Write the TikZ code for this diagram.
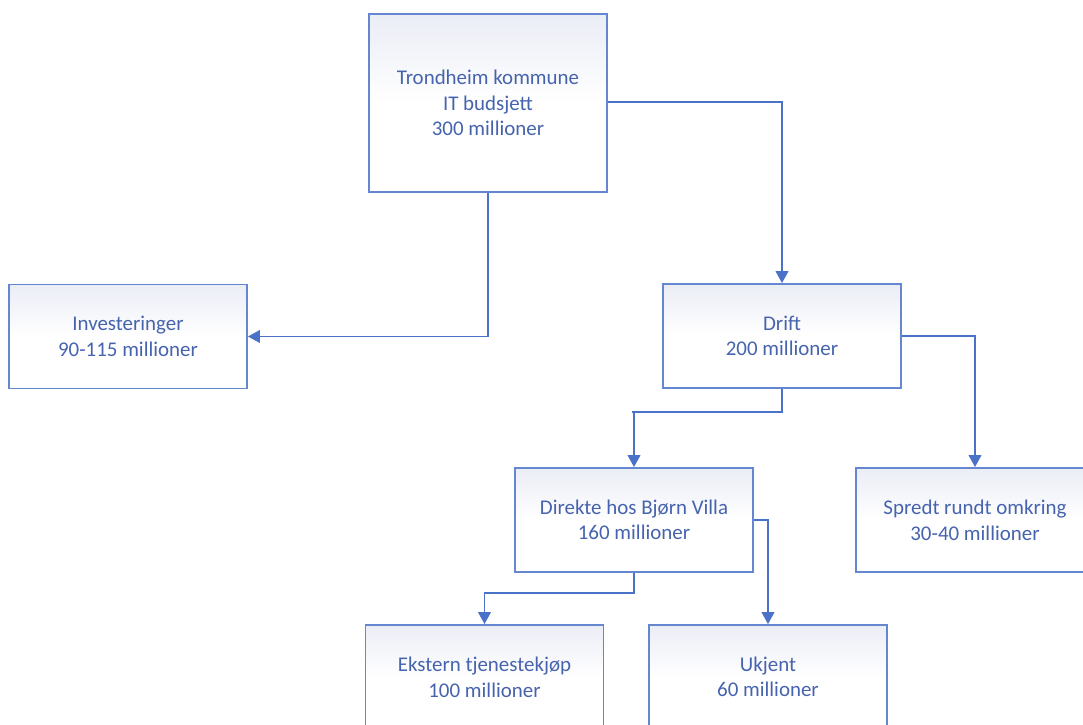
\documentclass[tikz,border=0pt]{standalone}
\usepackage{fontspec}
\setmainfont{Carlito}
\usetikzlibrary{arrows.meta}
\definecolor{lineblue}{HTML}{4A72C8}
\definecolor{textblue}{HTML}{4663AE}
\definecolor{boxshade}{HTML}{EBEDF6}
\tikzset{
  box/.style={draw=lineblue!85, line width=1.4pt, minimum width=178.5pt, minimum height=78pt,
    shade, shading angle=135, top color=boxshade, bottom color=white, middle color=white,
    align=center, text=textblue, font=\fontsize{15.7}{19.2}\selectfont, inner sep=0pt},
  conn/.style={draw=lineblue, line width=1.4pt, -{Triangle[length=9pt,width=9.5pt]}}
}
\begin{document}
\begin{tikzpicture}[x=0.75pt,y=-0.75pt]
\useasboundingbox (0,0) rectangle (1083,725);
\clip (0,0) rectangle (1083,725);
\fill[white] (0,0) rectangle (1083,725);
\node[box, minimum height=133.5pt] (top) at (488,103) {Trondheim kommune\\IT budsjett\\300 millioner};
\node[box] (inv) at (128,336.5) {Investeringer\\90-115 millioner};
\node[box] (drift) at (782,336) {Drift\\200 millioner};
\node[box] (dir) at (634,520) {Direkte hos Bjørn Villa\\160 millioner};
\node[box] (spr) at (975,520) {Spredt rundt omkring\\30-40 millioner};
\node[box] (ekst) at (484.5,677) {Ekstern tjenestekjøp\\100 millioner};
\node[box] (ukj) at (768,677) {Ukjent\\60 millioner};
\draw[conn] (top.east |- 0,102) -| (drift.north);
\draw[conn] (top.south) |- (inv.east);
\draw[conn] (drift.south) |- (632,412) -- (632,412 -| dir.north) -- (dir.north);
\draw[conn] (drift.east) -| (spr.north);
\draw[conn] (dir.south) |- (484.5,593) -- (ekst.north);
\draw[conn] (dir.east) -| (ukj.north);
\end{tikzpicture}
\end{document}
